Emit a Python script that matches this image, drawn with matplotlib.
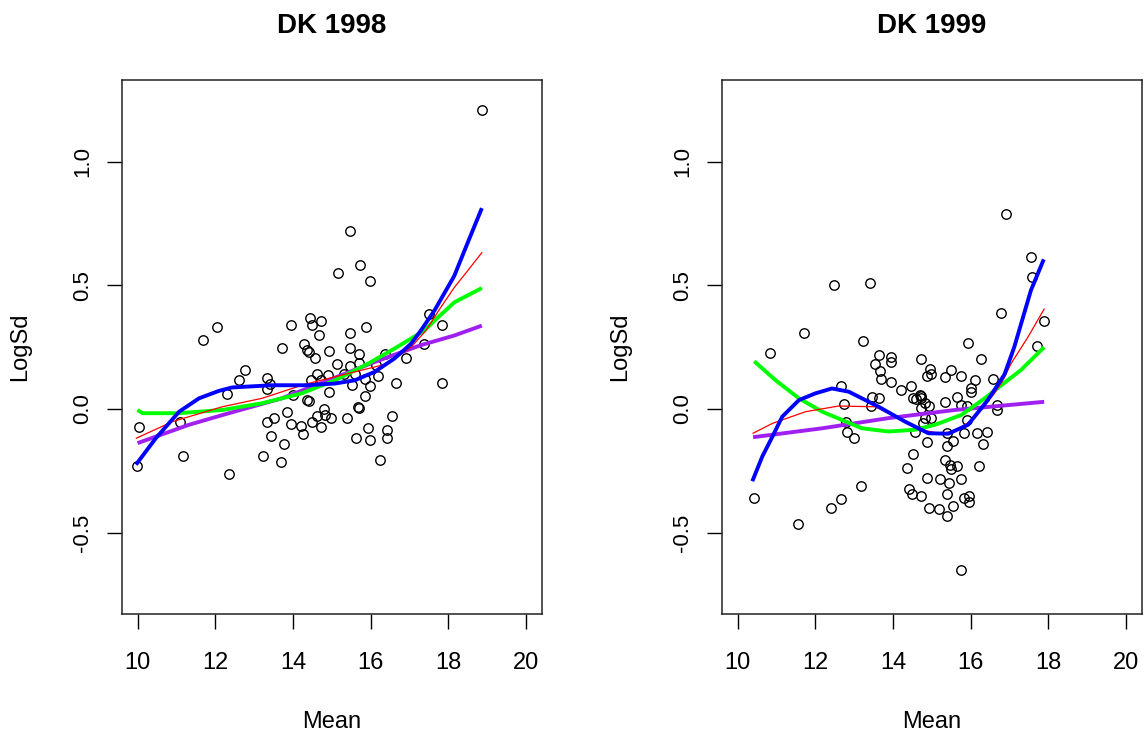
import matplotlib
matplotlib.use("Agg")
import matplotlib.pyplot as plt

plt.rcParams['font.family'] = ['Liberation Sans', 'DejaVu Sans']

# ---------------- data: DK 1998 ----------------
mean_1998 = [18.86, 15.47, 15.72, 15.17, 15.99, 17.51, 17.83, 12.05, 11.68, 13.94,
             14.45, 14.71, 14.50, 14.66, 15.47, 15.89, 17.36, 13.73, 14.28, 14.37,
             14.40, 14.93, 15.47, 14.57, 15.69, 15.13, 15.47, 15.70, 16.36, 16.91,
             16.14, 12.76, 12.60, 13.32, 13.42, 13.34, 12.30, 11.08, 10.04, 9.98,
             11.17, 12.35, 14.63, 14.91, 14.46, 14.73, 14.92, 14.36, 14.40, 14.01,
             13.84, 13.50, 13.32, 13.94, 14.21, 14.25, 13.43, 13.78, 13.23, 13.69,
             14.50, 14.62, 14.72, 14.80, 14.83, 14.98, 15.39, 15.68, 15.71, 15.85,
             15.99, 15.53, 15.85, 16.20, 16.65, 17.83, 16.56, 15.94, 16.41, 15.63,
             15.99, 16.41, 16.24, 15.30, 15.60]
logsd_1998 = [1.209, 0.718, 0.582, 0.549, 0.517, 0.383, 0.340, 0.333, 0.277, 0.340,
              0.367, 0.357, 0.340, 0.300, 0.309, 0.332, 0.262, 0.248, 0.261, 0.240,
              0.232, 0.236, 0.247, 0.205, 0.221, 0.181, 0.173, 0.184, 0.224, 0.205,
              0.177, 0.157, 0.116, 0.126, 0.100, 0.082, 0.060, -0.052, -0.071, -0.229,
              -0.189, -0.261, 0.141, 0.137, 0.119, 0.119, 0.067, 0.036, 0.032, 0.055,
              -0.012, -0.037, -0.052, -0.061, -0.070, -0.102, -0.110, -0.142, -0.190, -0.216,
              -0.052, -0.028, -0.071, 0.001, -0.024, -0.037, -0.037, 0.009, 0.004, 0.052,
              0.092, 0.096, 0.123, 0.133, 0.107, 0.107, -0.029, -0.078, -0.083, -0.118,
              -0.126, -0.118, -0.206, 0.140, 0.140]

blue_x_1998 = [9.96, 10.47, 11.07, 11.58, 12.09, 12.43, 13.46, 14.36, 15.08, 15.59,
               16.10, 16.61, 17.04, 17.29, 17.64, 18.15, 18.49, 18.86]
blue_y_1998 = [-0.225, -0.118, -0.011, 0.043, 0.073, 0.087, 0.096, 0.096, 0.103, 0.116,
               0.150, 0.204, 0.264, 0.317, 0.398, 0.538, 0.670, 0.812]
red_x_1998 = [9.97, 10.90, 12.18, 13.20, 14.31, 15.59, 16.44, 17.04, 17.42, 17.80,
              18.15, 18.49, 18.86]
red_y_1998 = [-0.118, -0.051, 0.009, 0.043, 0.100, 0.150, 0.183, 0.250, 0.317, 0.410,
              0.491, 0.558, 0.632]
green_x_1998 = [10.00, 10.13, 11.07, 12.18, 13.20, 14.22, 15.08, 15.93, 16.61, 17.38,
                17.64, 18.15, 18.86]
green_y_1998 = [-0.004, -0.017, -0.017, -0.004, 0.023, 0.063, 0.116, 0.183, 0.244, 0.317,
                0.357, 0.431, 0.489]
purple_x_1998 = [10.00, 11.32, 12.35, 13.71, 14.91, 16.10, 17.29, 18.15, 18.86]
purple_y_1998 = [-0.138, -0.064, -0.017, 0.043, 0.116, 0.190, 0.258, 0.297, 0.337]

# ---------------- data: DK 1999 ----------------
mean_1999 = [16.92, 17.54, 17.58, 16.77, 17.89, 17.70, 12.47, 13.40, 11.70, 10.84,
             13.24, 15.94, 16.26, 14.72, 13.64, 13.95, 13.95, 13.54, 13.66, 13.70,
             13.95, 14.21, 14.46, 14.94, 14.88, 14.99, 15.33, 15.50, 15.74, 16.12,
             16.57, 16.00, 16.00, 12.67, 14.72, 14.60, 15.65, 14.69, 14.73, 14.52,
             14.82, 14.92, 14.72, 15.33, 15.74, 15.91, 16.68, 16.68, 13.46, 13.63,
             13.44, 12.74, 12.79, 12.82, 12.99, 14.82, 14.99, 14.78, 14.56, 14.88,
             15.40, 15.55, 15.38, 15.84, 16.17, 16.42, 16.31, 15.91, 14.52, 14.37,
             15.35, 15.47, 15.50, 15.65, 16.21, 14.88, 15.22, 15.44, 15.74, 14.42,
             14.50, 14.72, 15.38, 15.83, 15.96, 15.96, 14.93, 15.19, 15.38, 15.55,
             13.18, 12.67, 12.41, 11.55, 10.42, 15.74]
logsd_1999 = [0.790, 0.613, 0.533, 0.388, 0.356, 0.253, 0.501, 0.510, 0.308, 0.228,
              0.276, 0.268, 0.204, 0.204, 0.220, 0.210, 0.190, 0.181, 0.153, 0.123,
              0.108, 0.075, 0.092, 0.163, 0.133, 0.141, 0.130, 0.157, 0.133, 0.116,
              0.123, 0.083, 0.070, 0.092, 0.052, 0.040, 0.047, 0.056, 0.043, 0.043,
              0.025, 0.012, 0.003, 0.027, 0.016, 0.012, 0.016, -0.004, 0.047, 0.043,
              0.012, 0.019, -0.051, -0.091, -0.118, -0.037, -0.037, -0.058, -0.094, -0.134,
              -0.098, -0.131, -0.151, -0.098, -0.098, -0.094, -0.142, -0.044, -0.181, -0.238,
              -0.205, -0.225, -0.242, -0.229, -0.229, -0.278, -0.285, -0.301, -0.285, -0.325,
              -0.343, -0.352, -0.343, -0.359, -0.352, -0.374, -0.399, -0.406, -0.432, -0.392,
              -0.312, -0.365, -0.399, -0.463, -0.359, -0.649]

blue_x_1999 = [10.38, 10.64, 10.90, 11.15, 11.58, 12.00, 12.43, 12.86, 13.63, 14.31,
               14.91, 15.42, 15.93, 16.44, 16.87, 17.12, 17.55, 17.88]
blue_y_1999 = [-0.292, -0.191, -0.111, -0.031, 0.036, 0.063, 0.083, 0.070, 0.009, -0.051,
               -0.098, -0.100, -0.064, 0.036, 0.140, 0.250, 0.480, 0.605]
red_x_1999 = [10.40, 10.90, 11.75, 12.60, 13.54, 14.14, 14.73, 15.16, 15.59, 16.10,
              16.61, 16.83, 17.04, 17.47, 17.89]
red_y_1999 = [-0.098, -0.058, -0.011, 0.012, 0.009, -0.037, -0.084, -0.098, -0.091, -0.037,
              0.063, 0.116, 0.184, 0.290, 0.404]
green_x_1999 = [10.43, 10.98, 11.58, 12.18, 13.20, 13.88, 14.56, 15.08, 15.76, 16.36,
                16.95, 17.29, 17.89]
green_y_1999 = [0.193, 0.116, 0.043, -0.011, -0.078, -0.091, -0.084, -0.064, -0.024, 0.043,
                0.116, 0.157, 0.250]
purple_x_1999 = [10.40, 12.18, 13.88, 15.59, 17.89]
purple_y_1999 = [-0.114, -0.078, -0.037, -0.004, 0.029]

x_ticks = [10, 12, 14, 16, 18, 20]
y_ticks = [-0.5, 0.0, 0.5, 1.0]
y_tick_labels = ["-0.5", "0.0", "0.5", "1.0"]

panels = [
    ("DK 1998", mean_1998, logsd_1998,
     (purple_x_1998, purple_y_1998), (green_x_1998, green_y_1998),
     (red_x_1998, red_y_1998), (blue_x_1998, blue_y_1998)),
    ("DK 1999", mean_1999, logsd_1999,
     (purple_x_1999, purple_y_1999), (green_x_1999, green_y_1999),
     (red_x_1999, red_y_1999), (blue_x_1999, blue_y_1999)),
]

W, H = 1145, 735
fig = plt.figure(figsize=(W / 100, H / 100), dpi=100)
fig.patch.set_facecolor('white')

lefts = [122, 722]
box_w, box_top, box_bot = 419.7, 80, 614.3

for left, (title, xs, ys, pur, grn, red, blu) in zip(lefts, panels):
    ax = fig.add_axes([left / W, (H - box_bot) / H, box_w / W, (box_bot - box_top) / H])
    ax.plot(xs, ys, linestyle='none', marker='o', markersize=6.8,
            markerfacecolor='none', markeredgecolor='black', markeredgewidth=1.0)
    ax.plot(pur[0], pur[1], color='#A020F0', lw=2.8, solid_capstyle='butt')
    ax.plot(grn[0], grn[1], color='#00FF00', lw=2.8, solid_capstyle='butt')
    ax.plot(red[0], red[1], color='#FF0000', lw=0.9)
    ax.plot(blu[0], blu[1], color='#0000FF', lw=2.8, solid_capstyle='butt')

    ax.set_xlim(9.6, 20.4)
    ax.set_ylim(-0.83, 1.33)
    ax.set_xticks(x_ticks)
    ax.set_xticklabels([str(t) for t in x_ticks])
    ax.set_yticks(y_ticks)
    ax.set_yticklabels(y_tick_labels, rotation=90, va='center')
    ax.tick_params(axis='both', direction='out', length=11, width=1.0,
                   labelsize=17, colors='black')
    ax.tick_params(axis='x', pad=16)
    ax.tick_params(axis='y', pad=10, labelsize=16)
    for sp in ax.spines.values():
        sp.set_linewidth(1.1)
        sp.set_color('#222222')
    ax.set_xlabel("Mean", fontsize=17, labelpad=27)
    ax.set_ylabel("LogSd", fontsize=17, labelpad=29)
    ax.set_title(title, fontsize=20, fontweight='bold', pad=34)

fig.savefig("out.png", dpi=100, facecolor='white')
